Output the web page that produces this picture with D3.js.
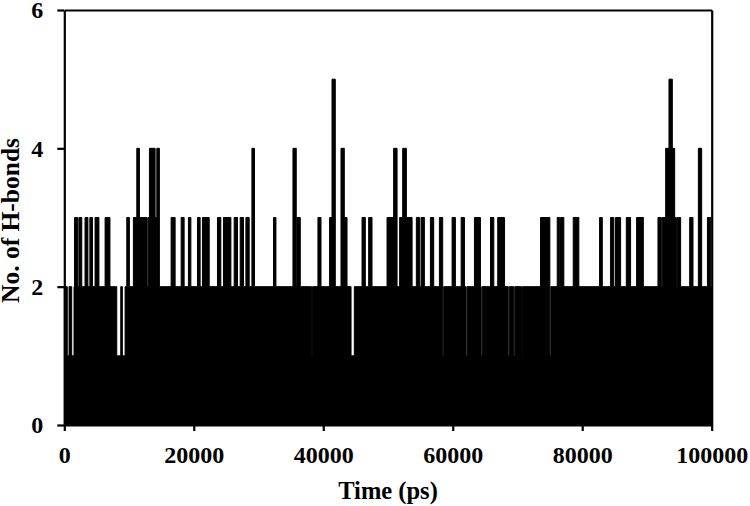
<!DOCTYPE html>
<html>
<head>
<meta charset="utf-8">
<script src="https://cdn.jsdelivr.net/npm/d3@7"></script>
<style>
  html, body { margin: 0; padding: 0; background: #fff; }
  svg { display: block; }
  .tick text, .title { font-family: "Liberation Serif", "Times New Roman", "DejaVu Serif", serif; font-weight: bold; fill: #000; }
</style>
</head>
<body>
<svg id="chart" width="750" height="506"></svg>
<script>
// ---- data (time in ps, number of H-bonds) ----
const xTicks = [0, 20000, 40000, 60000, 80000, 100000];
const yTicks = [0, 2, 4, 6];
const timeRange = [0, 100000];
const baseLevel = 2;       // typical upper envelope of the dense 0..2 oscillation

// periods where the count never went above 1
const dipsTo1 = [
  [460, 730], [1140, 1500], [8100, 8720], [8970, 9390],
  [38200, 38350], [44290, 44800], [58450, 58600], [62070, 62220],
  [64390, 64540], [68560, 68710], [69430, 69580], [70620, 70770], [75000, 75150]
];
// excursions to 3 H-bonds
const peaks3 = [
  [1580, 2050], [2250, 2700], [3200, 3650], [3950, 4350], [4750, 5350], [6300, 7050],
  [9650, 10050], [10670, 12800], [12950, 14690],
  [16500, 17120], [18050, 18510], [19170, 19550], [20570, 20980], [21340, 22380],
  [23660, 24180], [24590, 25730], [26240, 26750], [27170, 27680], [28050, 28560],
  [32320, 32690], [35940, 36450], [39180, 39650], [40980, 41500], [42740, 43670],
  [45990, 46500], [47010, 47530], [49850, 51400], [51800, 53720],
  [54380, 54890], [55110, 55620], [56550, 57060], [57940, 58450],
  [59900, 60410], [61300, 61810], [63350, 64280], [65830, 66340], [66950, 68000],
  [73560, 75000], [76140, 76540], [76650, 77160], [78610, 79480], [82680, 83100],
  [84380, 84890], [85150, 85930], [86810, 87470], [88400, 89440], [91700, 92220],
  [92380, 92890], [94280, 94550], [94700, 95200], [96600, 97110], [99340, 99850]
];
// excursions to 4 H-bonds
const peaks4 = [
  [11200, 11600], [13150, 14030], [14290, 14690], [28980, 29380], [35320, 35830],
  [42740, 43250], [50870, 51400], [52270, 52840], [92890, 94280], [97940, 98450]
];
// excursions to 5 H-bonds
const peaks5 = [
  [41350, 41860], [93400, 93920]
];

// ---- build step series from the listed periods ----
const levels = [
  { v: 1, list: dipsTo1 }, { v: 3, list: peaks3 }, { v: 4, list: peaks4 }, { v: 5, list: peaks5 }
];
const bounds = new Set(timeRange);
levels.forEach(l => l.list.forEach(([a, b]) => { bounds.add(a); bounds.add(b); }));
const edges = Array.from(bounds).sort((a, b) => a - b);
const series = [];
for (let i = 0; i < edges.length - 1; i++) {
  const m = (edges[i] + edges[i + 1]) / 2;
  let v = baseLevel, hi = 0;
  levels.forEach(l => {
    if (l.list.some(([a, b]) => m >= a && m < b)) {
      if (l.v === 1) { if (v === baseLevel) v = 1; }
      else hi = Math.max(hi, l.v);
    }
  });
  if (hi > 0) v = hi;
  series.push([edges[i], v]);
}
series.push([timeRange[1], series[series.length - 1][1]]);

// ---- chart ----
const W = 750, H = 506;
const margin = { left: 64.3, right: 38.3, top: 10, bottom: 81 };
const svg = d3.select("#chart");

const x = d3.scaleLinear().domain(timeRange).range([margin.left, W - margin.right]);
const y = d3.scaleLinear().domain([0, 6]).range([H - margin.bottom, margin.top]);

const area = d3.area()
  .x(d => x(d[0]))
  .y0(y(0))
  .y1(d => y(d[1]))
  .curve(d3.curveStepAfter);

svg.append("path")
  .datum(series)
  .attr("d", area)
  .attr("fill", "#000")
  .attr("stroke", "#000")
  .attr("stroke-width", 1);

const fontSize = 24;

const gx = svg.append("g")
  .attr("transform", `translate(0,${y(0)})`)
  .call(d3.axisBottom(x).tickValues(xTicks).tickFormat(d3.format("d")).tickSize(6).tickSizeOuter(0).tickPadding(15));
const gy = svg.append("g")
  .attr("transform", `translate(${x(0)},0)`)
  .call(d3.axisLeft(y).tickValues(yTicks).tickFormat(d3.format("d")).tickSize(7).tickSizeOuter(0).tickPadding(14));
const gt = svg.append("g")
  .attr("transform", `translate(0,${y(6)})`)
  .call(d3.axisTop(x).tickValues([]).tickSizeOuter(0));
const gr = svg.append("g")
  .attr("transform", `translate(${x(100000)},0)`)
  .call(d3.axisRight(y).tickValues([]).tickSizeOuter(0));

[gx, gy, gt, gr].forEach(g => {
  g.select(".domain").attr("stroke", "#000").attr("stroke-width", 2.2);
  g.selectAll(".tick line").attr("stroke", "#000").attr("stroke-width", 2.2);
  g.selectAll(".tick text").style("font-size", fontSize + "px");
});

svg.append("text")
  .attr("class", "title")
  .attr("x", (x(0) + x(100000)) / 2)
  .attr("y", 498.5)
  .attr("text-anchor", "middle")
  .style("font-size", "24.5px")
  .text("Time (ps)");

svg.append("text")
  .attr("class", "title")
  .attr("transform", `translate(19,${(y(0) + y(6)) / 2 + 3}) rotate(-90)`)
  .attr("text-anchor", "middle")
  .style("font-size", "25.5px")
  .text("No. of H-bonds");
</script>
</body>
</html>
